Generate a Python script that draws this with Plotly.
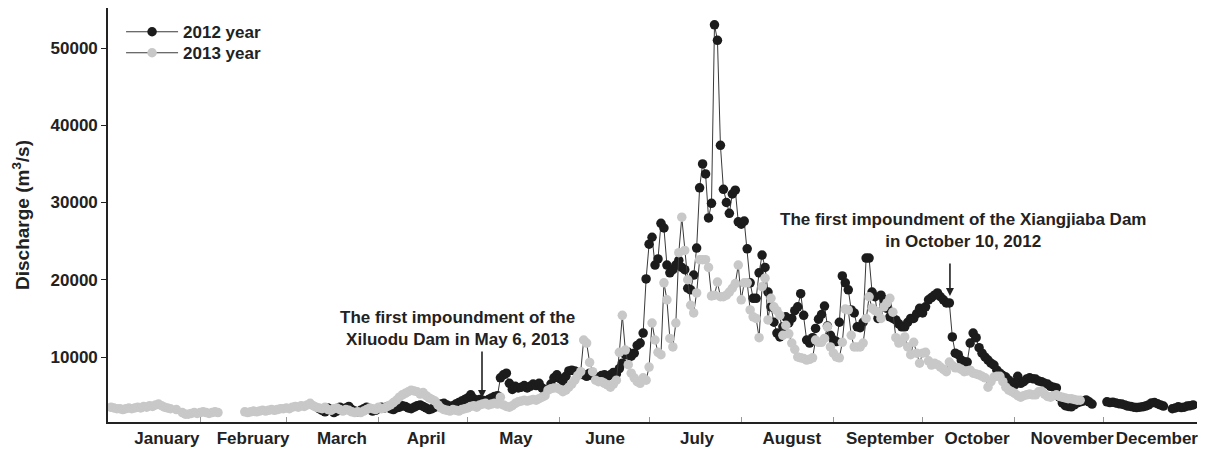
import plotly.graph_objects as go

FONT = "Liberation Sans, Arial, sans-serif"

# ---------------- data (daily discharge, m3/s; x = day of year offset) ----------------
q2012_main_start = 71
q2012_main = [
    3300, 3100, 2900, 3400, 3200, 2800, 3000, 3500, 3300, 3400,
    3600, 3200, 3000, 2900, 3100, 3300, 3500, 3200, 3000, 3100,
    3300, 3500, 3400, 3600, 3300, 3200, 3400, 3500, 3700, 3600,
    3400, 3300, 3500, 3700, 3800, 3600, 3400, 3200, 3300, 3500,
    3700, 3900, 4000, 3800, 3600, 3700, 3900, 4100, 4300, 4500,
    4700, 5100, 4600, 4300, 4500, 4400, 4300, 4500, 4700, 4900,
    5000, 7300, 7700, 7900, 6600, 5800, 6200, 6000, 6100, 6300,
    6000, 6200, 6500, 6300, 6600, 6000, 5600, 5800, 6500, 7300,
    7700, 7200, 6900, 7500, 8200, 8300, 8200, 7900, 8000, 7700,
    7500, 7900, 7600, 7400, 7300, 7600, 7700, 7500, 7700, 8000,
    7800, 8500, 9200, 10300, 10600, 10100, 10500, 11500, 11800, 13100,
    20100, 24600, 25500, 21900, 22700, 27300, 26700, 21900, 20900, 21300,
    21900, 22500, 21600, 21300, 18900, 18700, 20600, 24100, 31900, 35000,
    33700, 28000, 29900, 53000, 51000, 37400, 31700, 30000, 28600, 31100,
    31600, 27500, 27200, 27600, 24000, 19600, 17600, 17600, 20900, 23200,
    21600, 18400, 16500, 14500, 13100, 12600, 13900, 15200, 14400, 15000,
    16000, 16500, 18200, 15400, 12200, 11800, 12500, 13700, 14900, 15500,
    16600, 14000, 12800, 12200, 12000, 14500, 20500, 19600, 18700, 16100,
    15700, 13900, 13800, 14500, 22800, 22800, 18400, 17800, 15000, 18000,
    17400, 16300, 15200, 15000, 14800, 14300, 13900, 13900, 14500, 15000,
    15000, 15600, 16300, 15700, 16500, 17400, 17700, 18000, 18300, 17800,
    17400, 17000, 17000, 12600, 10500, 10300, 9600, 9400, 9350, 11800,
    13100, 12500, 11200, 10500, 10000, 9600, 9200, 8950, 8300, 7900,
    7600, 7400, 7000, 6700, 6400, 7500, 6600, 6800, 7150, 7300,
    7200, 7150, 6900, 6800, 6600, 6500, 6200, 6100, 6000, 4800,
    4050, 3700, 3600, 3550, 3800, 4050, 4200, 4300, 4450, 4200, 3900,
]
q2012_dec_a_start = 336
q2012_dec_a = [4200, 4100, 4150, 4050, 3950, 3900, 3800, 3650, 3600, 3500,
               3450, 3500, 3550, 3650, 3800, 4050, 4100, 3950, 3800, 3650]
q2012_dec_b_start = 358
q2012_dec_b = [3300, 3400, 3550, 3450, 3500, 3650, 3700, 3800]

q2013_jan_a_start = 1
q2013_jan_a = [3500, 3400, 3300, 3300, 3200, 3300, 3400, 3300, 3400, 3500,
               3400, 3600, 3500, 3700, 3600, 3800, 3900, 3700, 3500, 3400, 3300]
q2013_jan_b_start = 23
q2013_jan_b = [3200]
q2013_jan_c_start = 25
q2013_jan_c = [2800, 2600, 2600, 2700, 2800, 2700, 2800, 2900, 2800, 2700, 2800, 2900, 2800]
q2013_main_start = 46
q2013_main = [
    2900, 2800, 2900, 3000, 2900, 3000, 3100, 3000, 3100, 3200,
    3100, 3200, 3300, 3300, 3400, 3300, 3500, 3600, 3500, 3700,
    3600, 3800, 4000, 3700, 3500, 3400, 3300, 3500, 3200, 3100,
    3300, 3400, 3200, 3000, 3200, 3100, 2900, 2800, 2900, 2800,
    3000, 3200, 3400, 3300, 3200, 3500, 3300, 3400, 3600, 3800,
    4100, 4400, 4800, 5100, 5300, 5500, 5700, 5600, 5500, 5200,
    5400, 5000, 4700, 4500, 4300, 3800, 3400, 3200, 3100, 3000,
    3200, 3100, 3000, 3200, 3300, 3400, 3600, 3700, 3500, 3800,
    3900, 4000, 3800, 3900, 4000, 3900, 4800, 3800, 3600, 3500,
    3700, 4000, 4200, 4300, 4400, 4300, 4400, 4500, 4400, 4600,
    4800, 5000, 5700, 5900, 6000, 6000, 5800, 5500, 5700, 6100,
    6500, 7000, 7600, 8100, 12200, 11800, 9300, 8100, 7000, 6800,
    6800, 6600, 6400, 6100, 6500, 7000, 10600, 15400, 10900, 9000,
    7900, 7300, 6800, 6600, 7300, 7000, 8700, 14400, 12200, 10600,
    10300, 19600, 17400, 12400, 11300, 14400, 23500, 28100, 23800, 20000,
    16700, 15700, 18300, 22600, 22600, 22600, 21600, 17900, 18000, 19700,
    17800, 17800, 18000, 18400, 18900, 19500, 21900, 17400, 19600, 19600,
    16100, 15200, 15000, 12500, 19100, 20200, 14800, 17600, 16500, 16000,
    15400, 12800, 14100, 13000, 11800, 11000, 10000, 9900, 9800, 9600,
    9700, 9900, 12200, 11900, 11900, 12400, 13900, 11300, 10500, 10000,
    9900, 11900, 16200, 16100, 12800, 11300, 11300, 11300, 11800, 15000,
    17800, 16300, 16000, 15800, 15000, 16500, 17000, 17600, 15800, 12500,
    11800, 12000, 12600, 11300, 10300, 11900, 10500, 9200, 10500, 10600,
    9500, 8950, 9200, 9000, 8700, 8400, 8100, 9350, 8900, 8600,
    8600, 8400, 8100, 8200, 8300, 7900, 7800, 7700, 7500, 7300,
    6100, 6800, 7400, 7500, 7500, 6800, 6100, 5700, 5500, 5300,
    5000, 4800, 5000, 5100, 5200, 5100, 5100, 5500, 5600, 5200,
    4900, 4800, 5000, 5100, 4900, 4800, 4700, 4600, 4600, 4500,
    4400, 4400,
]

month_names = ["January", "February", "March", "April", "May", "June", "July",
               "August", "September", "October", "November", "December"]
month_label_pos = [19.8, 48.8, 78.7, 107, 137.2, 167.2, 198.1, 230, 263, 292.3, 324.3, 352.8]
month_edges = [31, 60, 91, 121, 152, 182, 213, 244, 274, 305, 335]
y_ticks = [10000, 20000, 30000, 40000, 50000]
y_tick_text = ["10000", "20000", "30000", "40000", "50000"]


def build(segments):
    xs, ys = [], []
    for start, vals in segments:
        xs += list(range(start, start + len(vals))) + [None]
        ys += list(vals) + [None]
    return xs, ys


x12, y12 = build([(q2012_main_start, q2012_main), (q2012_dec_a_start, q2012_dec_a),
                  (q2012_dec_b_start, q2012_dec_b)])
x13, y13 = build([(q2013_jan_a_start, q2013_jan_a), (q2013_jan_b_start, q2013_jan_b),
                  (q2013_jan_c_start, q2013_jan_c), (q2013_main_start, q2013_main)])

fig = go.Figure()
fig.add_trace(go.Scatter(
    x=x12, y=y12, mode="lines+markers", name="2012 year", connectgaps=False,
    line=dict(color="#3a3a3a", width=1),
    marker=dict(color="#1c1c1c", size=9.5, line=dict(width=0)),
    legend="legend",
))
fig.add_trace(go.Scatter(
    x=x13, y=y13, mode="lines+markers", name="2013 year", connectgaps=False,
    line=dict(color="#3a3a3a", width=1),
    marker=dict(color="#c8c8c8", size=9.5, line=dict(width=0)),
    legend="legend2",
))

txt_font = dict(family=FONT, size=17, color="#222", weight="bold")

fig.add_annotation(x=117.4, y=13754, xref="x", yref="y", showarrow=False,
                   text="The first impoundment of the<br>Xiluodu Dam in May 6, 2013",
                   font=txt_font, align="center")
fig.add_annotation(x=125.8, y=4692, ax=125.8, ay=10906, xref="x", yref="y",
                   axref="x", ayref="y", text="", showarrow=True,
                   arrowhead=2, arrowsize=1, arrowwidth=1.6, arrowcolor="#222")
fig.add_annotation(x=287.6, y=26440, xref="x", yref="y", showarrow=False,
                   text="The first impoundment of the Xiangjiaba Dam<br>in October 10, 2012",
                   font=txt_font, align="center")
fig.add_annotation(x=283.2, y=17900, ax=283.2, ay=22300, xref="x", yref="y",
                   axref="x", ayref="y", text="", showarrow=True,
                   arrowhead=2, arrowsize=1, arrowwidth=1.6, arrowcolor="#222")

legend_common = dict(xanchor="left", yanchor="top", bgcolor="rgba(0,0,0,0)",
                     borderwidth=0, itemwidth=52,
                     font=dict(family=FONT, size=17, color="#222", weight="bold"))

# the page body has an 8px margin, so the figure is shifted by 8px right/down
fig.update_layout(
    width=1205, height=441,
    margin=dict(l=100, r=16, t=0, b=27, autoexpand=False),
    paper_bgcolor="white", plot_bgcolor="white",
    font=dict(family=FONT, color="#222"),
    showlegend=True,
    legend=dict(x=0.012, y=0.985, **legend_common),
    legend2=dict(x=0.012, y=0.985 - 21 / 414, **legend_common),
    xaxis=dict(
        range=[0, 366.3], showgrid=False, zeroline=False, automargin=False,
        showline=True, linecolor="#222", linewidth=1.6,
        tickmode="array", tickvals=month_label_pos, ticktext=month_names,
        tickangle=0, ticks="",
        tickfont=dict(family=FONT, size=17, color="#222", weight="bold"),
        minor=dict(tickmode="array", tickvals=month_edges, ticks="inside",
                   ticklen=5, tickcolor="#999", tickwidth=1, showgrid=False),
    ),
    yaxis=dict(
        range=[1586, 55178], showgrid=False, zeroline=False, automargin=False,
        showline=True, linecolor="#222", linewidth=1.6,
        tickmode="array", tickvals=y_ticks, ticktext=y_tick_text,
        ticks="outside", ticklen=5, tickcolor="#222", tickwidth=1.4,
        tickfont=dict(family=FONT, size=17, color="#222", weight="bold"),
        title=dict(text="Discharge (m<sup>3</sup>/s)", standoff=16,
                   font=dict(family=FONT, size=19, color="#222", weight="bold")),
    ),
)

fig.write_html("out.html")
